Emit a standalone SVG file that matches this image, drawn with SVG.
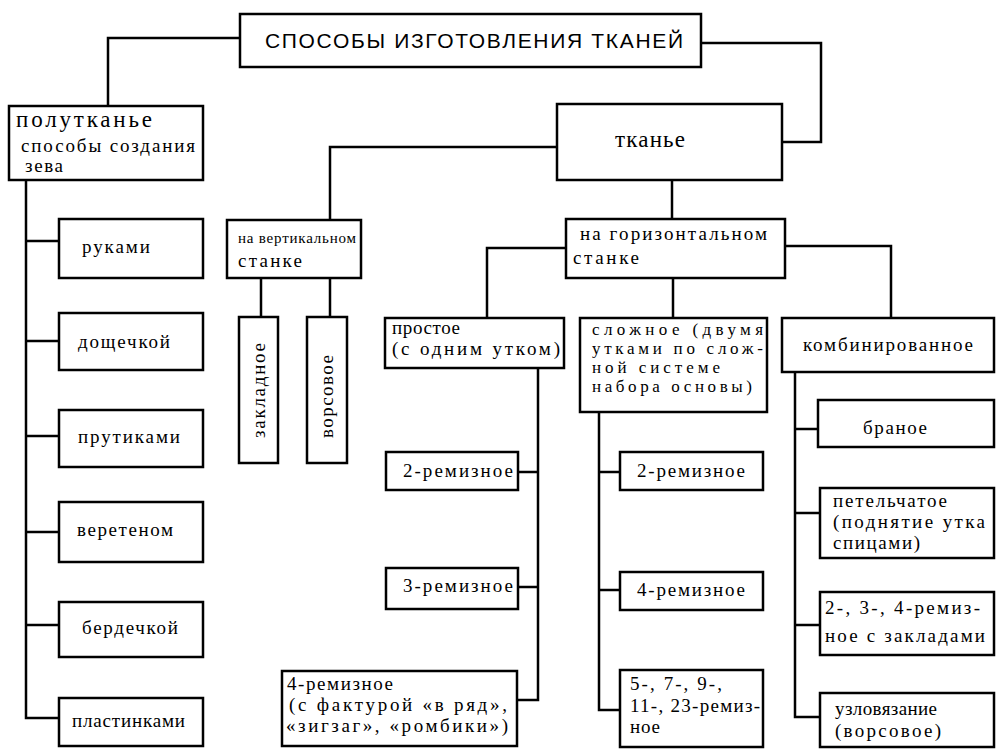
<svg xmlns="http://www.w3.org/2000/svg" width="996" height="749" viewBox="0 0 996 749">
<style>
.b{fill:#fff;stroke:#000;stroke-width:2.5}
.c{fill:none;stroke:#000;stroke-width:2.5}
text{font-family:"Liberation Serif","DejaVu Serif",serif;font-size:19px;fill:#000}
.t{font-family:"Liberation Sans","DejaVu Sans",sans-serif;font-size:21px}
.big{font-size:23px}
.sm{font-size:15px}
.s17{font-size:17px}
</style>
<rect width="996" height="749" fill="#fff"/>
<g id="connectors">
<path class="c" d="M240,38 H108 V106"/>
<path class="c" d="M701,43 H821 V142 H782"/>
<path class="c" d="M557,147 H330 V220"/>
<path class="c" d="M672,180 V219"/>
<path class="c" d="M26,180 V718 H59 M26,241 H59 M26,341 H59 M26,436 H59 M26,532 H59 M26,625 H59"/>
<path class="c" d="M261,278 V317 M330,278 V317"/>
<path class="c" d="M566,248 H487 V318 M673,278 V318 M785,246 H891 V318"/>
<path class="c" d="M538,368 V700 H517 M518,472 H538 M518,587 H538"/>
<path class="c" d="M599,412 V710 H620 M599,472 H620 M599,590 H620"/>
<path class="c" d="M795,372 V717 H820 M795,429 H818 M795,513 H820 M795,625 H820"/>
</g>
<g id="title"><rect class="b" x="240" y="14" width="461" height="53"/><text class="t" x="265" y="48" textLength="418" lengthAdjust="spacing">СПОСОБЫ ИЗГОТОВЛЕНИЯ ТКАНЕЙ</text></g>
<g id="polutkane"><rect class="b" x="9" y="106" width="194" height="74"/>
<text class="big" x="16" y="127" textLength="136" lengthAdjust="spacing">полутканье</text>
<text x="21" y="152" textLength="174" lengthAdjust="spacing">способы создания</text>
<text x="25" y="172" textLength="38" lengthAdjust="spacing">зева</text></g>
<g id="tkane"><rect class="b" x="557" y="104" width="225" height="76"/><text class="big" x="615" y="147" textLength="70" lengthAdjust="spacing">тканье</text></g>
<g id="vertical"><rect class="b" x="227" y="220" width="134" height="58"/>
<text class="sm" x="238" y="243" textLength="118" lengthAdjust="spacing">на вертикальном</text>
<text x="238" y="267" textLength="64" lengthAdjust="spacing">станке</text></g>
<g id="horizontal"><rect class="b" x="566" y="219" width="219" height="59"/>
<text x="580" y="240" textLength="187" lengthAdjust="spacing">на горизонтальном</text>
<text x="573" y="264" textLength="66" lengthAdjust="spacing">станке</text></g>
<g id="zakladnoe"><rect class="b" x="239" y="317" width="39" height="146"/><text transform="translate(265,438) rotate(-90)" x="0" y="0" textLength="95" lengthAdjust="spacing">закладное</text></g>
<g id="vorsovoe"><rect class="b" x="307" y="317" width="40" height="146"/><text transform="translate(333,438) rotate(-90)" x="0" y="0" textLength="83" lengthAdjust="spacing">ворсовое</text></g>
<g id="prostoe"><rect class="b" x="385" y="318" width="179" height="50"/>
<text x="392" y="334" textLength="68" lengthAdjust="spacing">простое</text>
<text x="392" y="355" textLength="168" lengthAdjust="spacing">(с одним утком)</text></g>
<g id="slozhnoe"><rect class="b" x="580" y="318" width="187" height="94"/>
<text class="s17" x="592" y="335" textLength="171" lengthAdjust="spacing">сложное (двумя</text>
<text class="s17" x="592" y="354" textLength="171" lengthAdjust="spacing">утками по слож-</text>
<text class="s17" x="592" y="373" textLength="128" lengthAdjust="spacing">ной системе</text>
<text class="s17" x="592" y="392" textLength="160" lengthAdjust="spacing">набора основы)</text></g>
<g id="kombinirovannoe"><rect class="b" x="782" y="318" width="212" height="54"/><text x="803" y="351" textLength="170" lengthAdjust="spacing">комбинированное</text></g>
<g id="rukami"><rect class="b" x="59" y="219" width="144" height="59"/><text x="82" y="253" textLength="68" lengthAdjust="spacing">руками</text></g>
<g id="doshchechkoy"><rect class="b" x="59" y="313" width="144" height="57"/><text x="78" y="348" textLength="92" lengthAdjust="spacing">дощечкой</text></g>
<g id="prutikami"><rect class="b" x="59" y="410" width="144" height="57"/><text x="78" y="443" textLength="102" lengthAdjust="spacing">прутиками</text></g>
<g id="veretenom"><rect class="b" x="59" y="502" width="144" height="60"/><text x="77" y="536" textLength="96" lengthAdjust="spacing">веретеном</text></g>
<g id="berdechkoy"><rect class="b" x="59" y="602" width="144" height="55"/><text x="82" y="634" textLength="96" lengthAdjust="spacing">бердечкой</text></g>
<g id="plastinkami"><rect class="b" x="59" y="698" width="144" height="48"/><text x="72" y="727" textLength="113" lengthAdjust="spacing">пластинками</text></g>
<g id="p2"><rect class="b" x="386" y="452" width="132" height="38"/><text x="403" y="477" textLength="110" lengthAdjust="spacing">2-ремизное</text></g>
<g id="p3"><rect class="b" x="386" y="568" width="132" height="41"/><text x="403" y="592" textLength="110" lengthAdjust="spacing">3-ремизное</text></g>
<g id="p4"><rect class="b" x="282" y="671" width="235" height="75"/>
<text x="287" y="690" textLength="106" lengthAdjust="spacing">4-ремизное</text>
<text x="289" y="711" textLength="218" lengthAdjust="spacing">(с фактурой «в ряд»,</text>
<text x="286" y="732" textLength="222" lengthAdjust="spacing">«зигзаг», «ромбики»)</text></g>
<g id="s2"><rect class="b" x="620" y="452" width="143" height="38"/><text x="637" y="477" textLength="108" lengthAdjust="spacing">2-ремизное</text></g>
<g id="s4"><rect class="b" x="620" y="572" width="143" height="38"/><text x="637" y="596" textLength="108" lengthAdjust="spacing">4-ремизное</text></g>
<g id="s5"><rect class="b" x="620" y="670" width="143" height="77"/>
<text x="630" y="690" textLength="92" lengthAdjust="spacing">5-, 7-, 9-,</text>
<text x="630" y="712" textLength="130" lengthAdjust="spacing">11-, 23-ремиз-</text>
<text x="630" y="733" textLength="30" lengthAdjust="spacing">ное</text></g>
<g id="branoe"><rect class="b" x="818" y="400" width="176" height="47"/><text x="863" y="434" textLength="64" lengthAdjust="spacing">браное</text></g>
<g id="petelchatoe"><rect class="b" x="820" y="488" width="174" height="70"/>
<text x="833" y="507" textLength="114" lengthAdjust="spacing">петельчатое</text>
<text x="833" y="528" textLength="152" lengthAdjust="spacing">(поднятие утка</text>
<text x="833" y="549" textLength="87" lengthAdjust="spacing">спицами)</text></g>
<g id="remiznoe234"><rect class="b" x="820" y="592" width="174" height="63"/>
<text x="825" y="614" textLength="155" lengthAdjust="spacing">2-, 3-, 4-ремиз-</text>
<text x="825" y="642" textLength="160" lengthAdjust="spacing">ное с закладами</text></g>
<g id="uzlovyazanie"><rect class="b" x="820" y="693" width="174" height="54"/>
<text x="835" y="715" textLength="102" lengthAdjust="spacing">узловязание</text>
<text x="835" y="737" textLength="106" lengthAdjust="spacing">(ворсовое)</text></g>
</svg>
